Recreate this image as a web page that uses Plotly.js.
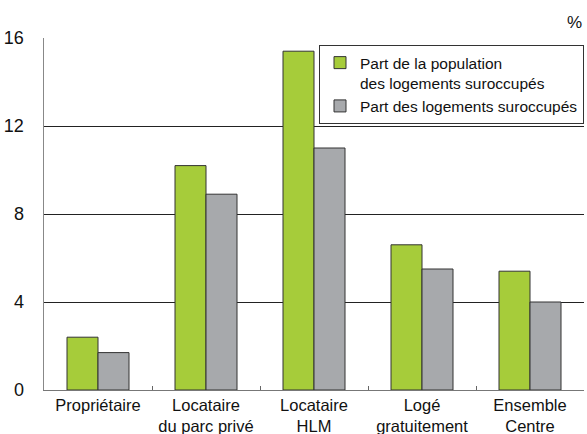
<!DOCTYPE html>
<html><head><meta charset="utf-8">
<script src="https://cdn.plot.ly/plotly-3.0.1.min.js"></script>
<style>body{margin:0;padding:0;background:#fff}#c{width:587px;height:434px}</style>
</head><body><div id="c"></div>
<script>
const categories = ["Propriétaire", "Locataire<br>du parc privé", "Locataire<br>HLM", "Logé<br>gratuitement", "Ensemble<br>Centre"];
const popValues = [2.4, 10.2, 15.4, 6.6, 5.4];
const logValues = [1.7, 8.9, 11.0, 5.5, 4.0];
const seriesNames = ["Part de la population<br>des logements suroccupés", "Part des logements suroccupés"];
const yTicks = [0, 4, 8, 12, 16];

const font = "Liberation Sans, Arial, sans-serif";
const data = [
  {type: "bar", x: categories, y: popValues, name: seriesNames[0],
   marker: {color: "#a6cc3a", line: {color: "#333", width: 1}}},
  {type: "bar", x: categories, y: logValues, name: seriesNames[1],
   marker: {color: "#a7a9ac", line: {color: "#333", width: 1}}}
];
const layout = {
  width: 587, height: 434,
  margin: {l: 44, r: 3, t: 38, b: 44},
  paper_bgcolor: "#fff", plot_bgcolor: "#fff",
  barmode: "group", bargap: 0.426, bargroupgap: 0,
  font: {family: font, size: 17, color: "#111"},
  xaxis: {type: "category", tickson: "boundaries", ticks: "inside", ticklen: 4, tickcolor: "#666", tickangle: 0,
    showline: true, linecolor: "#777", linewidth: 1, showgrid: false, tickfont: {size: 16.5}, automargin: false,
    ticklabelstandoff: 0},
  yaxis: {range: [0, 16], tickvals: yTicks, ticktext: yTicks.map(String), showgrid: true, gridcolor: "#222", gridwidth: 1,
    zeroline: false, showline: true, linecolor: "#888", linewidth: 1.5, ticks: "", ticklabelstandoff: 15, tickfont: {size: 18}, automargin: false},
  legend: {x: 1, y: 0.98, xanchor: "right", yanchor: "top", bgcolor: "#fff", bordercolor: "#333", borderwidth: 1,
    font: {size: 15.5}, valign: "top", tracegroupgap: 0},
  showlegend: true,
  annotations: [{text: "%", xref: "paper", yref: "paper", x: 1, y: 1, xanchor: "right", yanchor: "bottom", yshift: 4,
    showarrow: false, font: {size: 17}}]
};
Plotly.newPlot("c", data, layout, {displayModeBar: false, staticPlot: true});
</script></body></html>
